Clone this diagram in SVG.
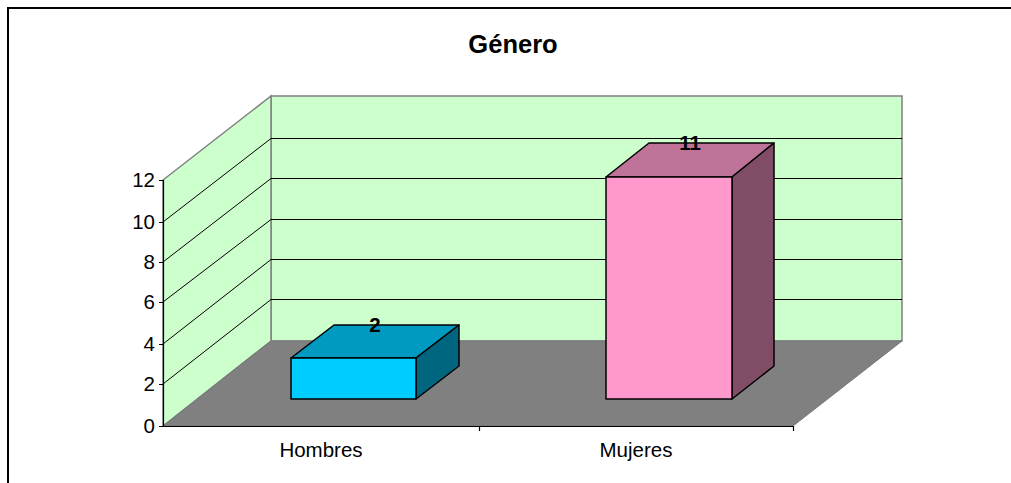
<svg xmlns="http://www.w3.org/2000/svg" width="1011" height="483" viewBox="0 0 1011 483">
<style>
text{font-family:"Liberation Sans",Arial,sans-serif;fill:#000}
.ax{font-size:20.5px}
.ya{text-anchor:end}
.ca{text-anchor:middle}
.val{font-size:20.5px;font-weight:bold;text-anchor:middle}
.wall{fill:#CCFFCC;stroke:#808080;stroke-width:1.5}
.grid{stroke:#000;stroke-width:1;fill:none}
.edge{stroke:#000;stroke-width:1.5;stroke-linejoin:round}
</style>
<rect width="1011" height="483" fill="#fff"/>
<path d="M8 483V8H1011" fill="none" stroke="#000" stroke-width="2"/>
<text x="513" y="53" font-size="25.5" font-weight="bold" text-anchor="middle">Género</text>
<g id="plot">
<polygon class="wall" points="271,96 902,96 902,341 271,341"/>
<polygon class="wall" points="163,180 271,96 271,341 163,426"/>
<polygon points="163,426 271,341 902,341 793,426" fill="#808080" stroke="#777" stroke-width="1"/>
</g>
<g id="connectors">
<g class="grid">
<path d="M271 299.5H902M271 259.5H902M271 219.5H902M271 178.5H902M271 138.5H902"/>
<path d="M163 384L271 299.5M163 344L271 259.5M163 302L271 219.5M163 262L271 178.5M163 222L271 138.5"/>
</g>
<path d="M163.5 180V426.5H793M159 426.5H163M159 384.5H163M159 344.5H163M159 302.5H163M159 262.5H163M159 222.5H163M159 180.5H163M479.5 426V431M793.5 426V431" stroke="#000" stroke-width="1.2" fill="none"/>
</g>
<g id="axis-labels" class="ax">
<text class="ya" x="155" y="433">0</text>
<text class="ya" x="155" y="391">2</text>
<text class="ya" x="155" y="351">4</text>
<text class="ya" x="155" y="309">6</text>
<text class="ya" x="155" y="269">8</text>
<text class="ya" x="155" y="229">10</text>
<text class="ya" x="155" y="187">12</text>
<text class="ca" x="321" y="457">Hombres</text>
<text class="ca" x="636" y="457">Mujeres</text>
</g>
<g id="bar-hombres">
<polygon class="edge" fill="#0099BF" points="291,358 334,325 459,325 416,358"/>
<polygon class="edge" fill="#006680" points="416,358 459,325 459,366 416,399"/>
<rect class="edge" fill="#00CCFF" x="291" y="358" width="125" height="41"/>
<text class="val" x="375" y="332">2</text>
</g>
<g id="bar-mujeres">
<polygon class="edge" fill="#BF7399" points="606,177 649,143 774,143 732,177"/>
<polygon class="edge" fill="#804C66" points="732,177 774,143 774,366 732,399"/>
<rect class="edge" fill="#FF99CC" x="606" y="177" width="126" height="222"/>
<text class="val" x="690" y="150">11</text>
</g>
</svg>
